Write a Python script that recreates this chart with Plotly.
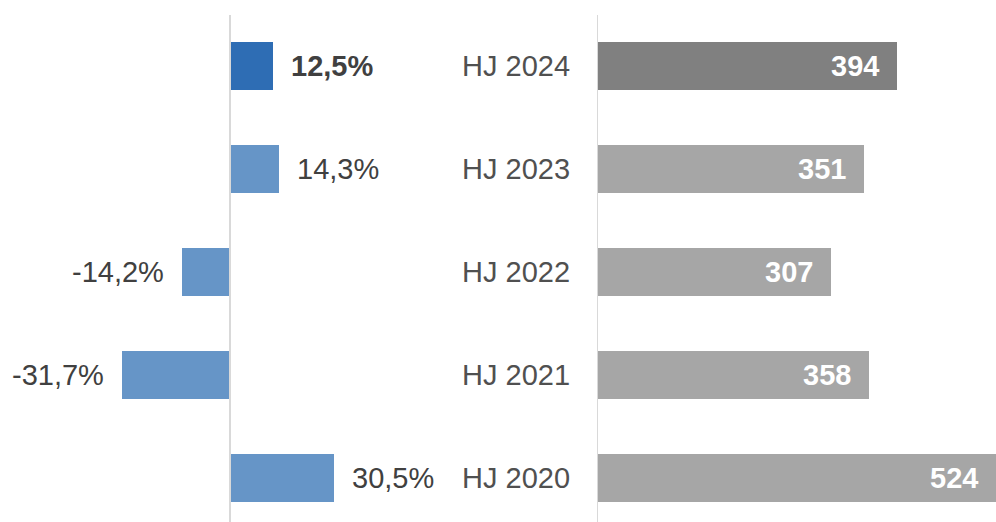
import plotly.graph_objects as go

categories = ["HJ 2024", "HJ 2023", "HJ 2022", "HJ 2021", "HJ 2020"]
change_pct = [12.5, 14.3, -14.2, -31.7, 30.5]
values = [394, 351, 307, 358, 524]

blue_colors = ["#2E6DB4", "#6695C7", "#6695C7", "#6695C7", "#6695C7"]
gray_colors = ["#808080", "#A6A6A6", "#A6A6A6", "#A6A6A6", "#A6A6A6"]

W, H = 996, 522
FONT = "Liberation Sans, Arial, sans-serif"
TXT = "#404040"
CAT_TXT = "#505050"
FS = 29

fig = go.Figure()
fig.add_trace(go.Bar(y=categories, x=change_pct, orientation="h", width=0.466,
                     marker=dict(color=blue_colors, line=dict(width=0)),
                     xaxis="x", yaxis="y", hoverinfo="skip"))
fig.add_trace(go.Bar(y=categories, x=values, orientation="h", width=0.466,
                     marker=dict(color=gray_colors, line=dict(width=0)),
                     xaxis="x2", yaxis="y", hoverinfo="skip"))

ann = []
for i, (c, v) in enumerate(zip(categories, change_pct)):
    t = f"{v:.1f}".replace(".", ",") + "%"
    if i == 0:
        t = "<b>" + t + "</b>"
    ann.append(dict(x=v, y=c, xref="x", yref="y", text=t, showarrow=False,
                    xanchor="left" if v > 0 else "right",
                    xshift=16 if v > 0 else -16, yanchor="middle",
                    font=dict(family=FONT, size=FS, color=TXT)))
for c, v in zip(categories, values):
    ann.append(dict(x=v, y=c, xref="x2", yref="y", text=f"<b>{v}</b>", showarrow=False,
                    xanchor="right", xshift=-16, yanchor="middle",
                    font=dict(family=FONT, size=FS, color="white")))
for c in categories:
    ann.append(dict(x=572 / W, y=c, xref="paper", yref="y", text=c, showarrow=False,
                    xanchor="right", yanchor="middle",
                    font=dict(family=FONT, size=FS, color=CAT_TXT)))

px_per_pct = 3.4
left_w = 440
zero_l = 230
fig.update_layout(
    width=W, height=H,
    margin=dict(l=0, r=0, t=15, b=0),
    paper_bgcolor="white", plot_bgcolor="white",
    showlegend=False, bargap=0,
    xaxis=dict(domain=[0, left_w / W],
               range=[-zero_l / px_per_pct, (left_w - zero_l) / px_per_pct],
               showgrid=False, zeroline=False, showticklabels=False, ticks=""),
    xaxis2=dict(domain=[597 / W, 1], range=[0, 524.5],
                showgrid=False, zeroline=False, showticklabels=False, ticks=""),
    yaxis=dict(categoryorder="array", categoryarray=categories[::-1],
               range=[-0.427, 4.495], showgrid=False, zeroline=False,
               showticklabels=False, ticks=""),
    annotations=ann,
    shapes=[
        dict(type="line", xref="x", yref="paper", x0=0, x1=0, y0=0, y1=1,
             line=dict(color="#D9D9D9", width=2), layer="above"),
        dict(type="line", xref="x2", yref="paper", x0=0, x1=0, y0=0, y1=1,
             line=dict(color="#D9D9D9", width=2), layer="above"),
    ],
)

fig.write_html("out.html", config={"displayModeBar": False},
               post_script="document.body.style.margin='0px';document.body.style.padding='0px';")
